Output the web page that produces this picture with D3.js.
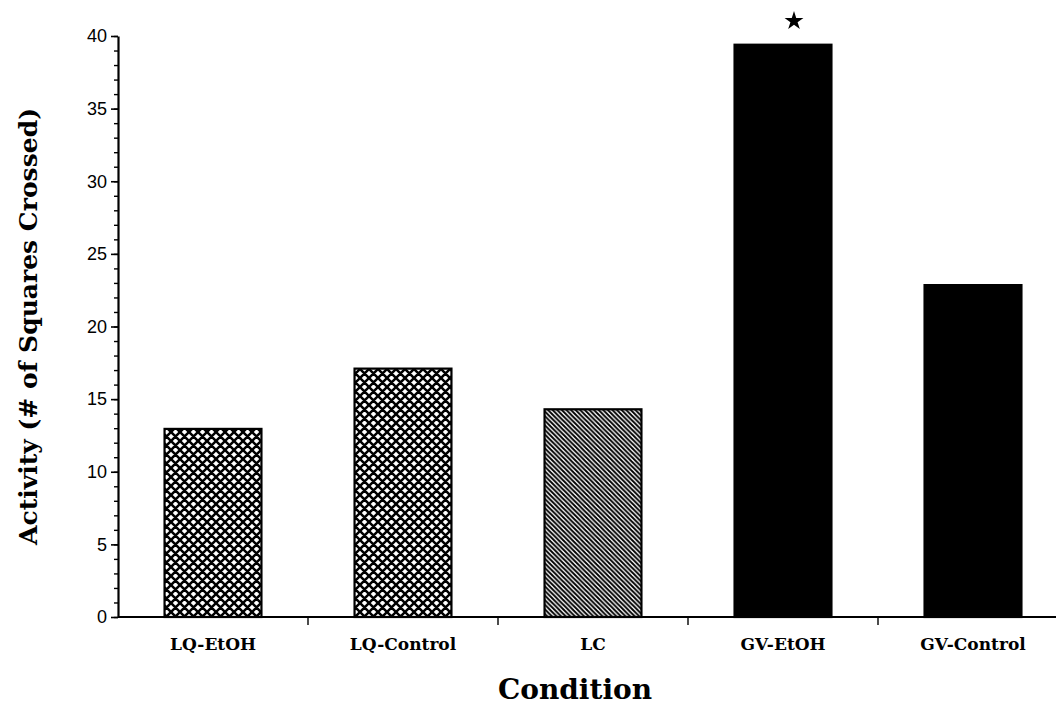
<!DOCTYPE html>
<html>
<head>
<meta charset="utf-8">
<script src="https://cdn.jsdelivr.net/npm/d3@7"></script>
<style>
  body { margin: 0; background: #fff; }
  svg { display: block; }
</style>
</head>
<body>
<svg id="chart" width="1056" height="709"></svg>
<script>
const conditions = ["LQ-EtOH", "LQ-Control", "LC", "GV-EtOH", "GV-Control"];
const activity = [12.95, 17.1, 14.3, 39.4, 22.85];
const fills = ["cross", "cross", "diag", "solid", "solid"];
const significant = [false, false, false, true, false];
const yTicks = [0, 5, 10, 15, 20, 25, 30, 35, 40];

const svg = d3.select("#chart");
const margin = {top: 36, right: -12, bottom: 92, left: 118};
const width = +svg.attr("width");
const height = +svg.attr("height");

const x = d3.scaleBand()
  .domain(conditions)
  .range([margin.left, width - margin.right])
  .paddingInner(0.49)
  .paddingOuter(0.245);

const y = d3.scaleLinear()
  .domain([0, 40])
  .range([height - margin.bottom, margin.top]);

// patterns
const defs = svg.append("defs");
const cross = defs.append("pattern")
  .attr("id", "cross")
  .attr("patternUnits", "userSpaceOnUse")
  .attr("width", 9).attr("height", 9);
cross.append("rect").attr("width", 9).attr("height", 9).attr("fill", "#fff");
cross.append("path")
  .attr("d", "M0,0L9,9M9,0L0,9M-4.5,4.5L4.5,13.5M4.5,-4.5L13.5,4.5M4.5,-4.5L-4.5,4.5M13.5,4.5L4.5,13.5")
  .attr("stroke", "#000").attr("stroke-width", 2.5);

const diag = defs.append("pattern")
  .attr("id", "diag")
  .attr("patternUnits", "userSpaceOnUse")
  .attr("width", 4.6).attr("height", 4.6);
diag.append("rect").attr("width", 4.6).attr("height", 4.6).attr("fill", "#fff");
diag.append("path")
  .attr("d", "M-1,-1L5.6,5.6M-1,3.6L1,5.6M3.6,-1L5.6,1")
  .attr("stroke", "#000").attr("stroke-width", 1.9);

const fillOf = f => f === "solid" ? "#000" : `url(#${f})`;

// bars
svg.append("g")
  .selectAll("rect")
  .data(conditions)
  .join("rect")
  .attr("x", d => x(d))
  .attr("y", (d, i) => y(activity[i]))
  .attr("width", x.bandwidth())
  .attr("height", (d, i) => y(0) - y(activity[i]))
  .attr("fill", (d, i) => fillOf(fills[i]))
  .attr("stroke", "#000")
  .attr("stroke-width", 2.2);

// significance star
svg.append("g")
  .selectAll("path")
  .data(conditions.filter((d, i) => significant[i]))
  .join("path")
  .attr("d", d3.symbol(d3.symbolStar, 110))
  .attr("transform", d => `translate(${x(d) + x.bandwidth() / 2 + 11},${y(40) - 15})`)
  .attr("fill", "#000");

// y axis
const yAxis = svg.append("g")
  .attr("transform", `translate(${margin.left},0)`);
yAxis.append("g")
  .call(d3.axisLeft(y).tickValues(d3.range(0, 41, 1)).tickSize(4).tickFormat(""))
  .call(g => g.select(".domain").remove())
  .call(g => g.selectAll("line").attr("stroke-width", 1.4));
yAxis.append("g")
  .call(d3.axisLeft(y).tickValues(yTicks).tickSize(7).tickPadding(4).tickSizeOuter(0))
  .call(g => g.select(".domain").attr("stroke-width", 2.2))
  .call(g => g.selectAll("line").attr("stroke-width", 1.6))
  .call(g => g.selectAll("text")
    .attr("font-family", "Liberation Sans, Arial, sans-serif")
    .attr("font-size", 18)
    .attr("fill", "#000"));

// x axis
const xAxis = svg.append("g")
  .attr("transform", `translate(0,${y(0)})`);
xAxis.append("line")
  .attr("x1", margin.left).attr("x2", width)
  .attr("stroke", "#000").attr("stroke-width", 2.2);
xAxis.selectAll("line.tick")
  .data(conditions.slice(1))
  .join("line")
  .attr("class", "tick")
  .attr("x1", d => x(d) - (x.step() - x.bandwidth()) / 2)
  .attr("x2", d => x(d) - (x.step() - x.bandwidth()) / 2)
  .attr("y1", 0).attr("y2", 8)
  .attr("stroke", "#000").attr("stroke-width", 1.4);
xAxis.selectAll("text")
  .data(conditions)
  .join("text")
  .attr("x", d => x(d) + x.bandwidth() / 2)
  .attr("y", 33)
  .attr("text-anchor", "middle")
  .attr("font-family", "DejaVu Serif, serif")
  .attr("font-weight", "bold")
  .attr("font-size", 17)
  .text(d => d);

// axis titles
svg.append("text")
  .attr("transform", `translate(37,${(y(0) + y(40)) / 2}) rotate(-90)`)
  .attr("text-anchor", "middle")
  .attr("font-family", "DejaVu Serif, serif")
  .attr("font-weight", "bold")
  .attr("font-size", 25)
  .text("Activity (# of Squares Crossed)");

svg.append("text")
  .attr("x", 575)
  .attr("y", 699)
  .attr("text-anchor", "middle")
  .attr("font-family", "DejaVu Serif, serif")
  .attr("font-weight", "bold")
  .attr("font-size", 28)
  .text("Condition");
</script>
</body>
</html>
